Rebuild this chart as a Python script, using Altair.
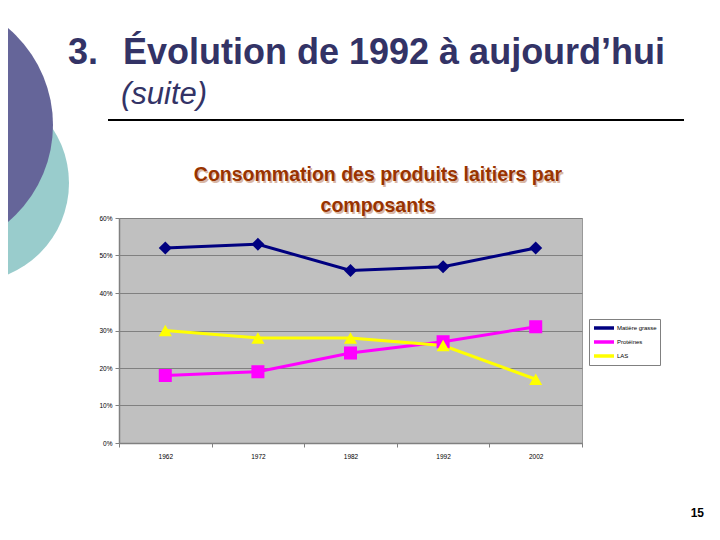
import altair as alt
import pandas as pd

# ---------------- data ----------------
years = ["1962", "1972", "1982", "1992", "2002"]
matiere_grasse = [0.52, 0.53, 0.46, 0.47, 0.52]
proteines = [0.18, 0.19, 0.24, 0.27, 0.31]
las = [0.30, 0.28, 0.28, 0.26, 0.17]
series_names = ["Matière grasse", "Protéines", "LAS"]
series_colors = ["#000080", "#FF00FF", "#FFFF00"]
series_shapes = ["diamond", "square", "triangle-up"]
y_ticks = [0, 0.1, 0.2, 0.3, 0.4, 0.5, 0.6]

slide_number = "3."
slide_title = "Évolution de 1992 à aujourd’hui"
slide_subtitle = "(suite)"
chart_title_1 = "Consommation des produits laitiers par"
chart_title_2 = "composants"
page_number = "15"

rows = []
for name, vals in zip(series_names, [matiere_grasse, proteines, las]):
    for yr, v in zip(years, vals):
        rows.append({"annee": yr, "part": v, "composant": name})
df = pd.DataFrame(rows)
one = pd.DataFrame({"k": [0]})

# ---------------- layout (page pixels) ----------------
W, H = 463, 225
OX, OY = 119, 218


def px(x):
    return x - OX


def py(y):
    return y - OY


x_enc = alt.X(
    "annee:O",
    sort=years,
    bandPosition=0.5,
    scale=alt.Scale(type="band", paddingInner=0, paddingOuter=0),
    axis=alt.Axis(
        title=None, labelAngle=0, tickBand="extent", grid=False,
        labelFontSize=6.5, labelColor="#000000", labelFont="Liberation Sans",
        labelPadding=6, tickSize=4, tickColor="#808080",
        domainColor="#808080", domainWidth=1.5,
    ),
)
y_enc = alt.Y(
    "part:Q",
    scale=alt.Scale(domain=[0, 0.6], nice=False),
    axis=alt.Axis(
        title=None, values=y_ticks, format=".0%",
        labelFontSize=6.5, labelColor="#000000", labelFont="Liberation Sans",
        labelPadding=3, tickSize=4, tickColor="#808080",
        domainColor="#808080", domainWidth=1.5,
        grid=True, gridColor="#808080", gridWidth=1,
    ),
)
color_enc = alt.Color(
    "composant:N",
    sort=series_names,
    scale=alt.Scale(domain=series_names, range=series_colors),
    legend=alt.Legend(
        title=None, orient="none", legendX=px(589), legendY=py(319),
        symbolType="stroke", symbolStrokeWidth=3.5, symbolSize=400,
        labelFontSize=6, labelFont="Liberation Sans", labelColor="#000000",
        labelOffset=1, clipHeight=12, rowPadding=2,
        fillColor="#FFFFFF", strokeColor="#808080", padding=3,
    ),
)

lines = alt.Chart(df).mark_line(strokeWidth=3).encode(
    x=x_enc, y=y_enc, color=color_enc
)

point_layers = []
for name, col, shp in zip(series_names, series_colors, series_shapes):
    point_layers.append(
        alt.Chart(df)
        .transform_filter(alt.datum.composant == name)
        .mark_point(filled=True, opacity=1, size=170, color=col, shape=shp)
        .encode(x=x_enc, y=y_enc)
    )

# ---------------- slide decoration ----------------
teal = alt.Chart(one).mark_circle(color="#99CCCC", opacity=1).encode(
    x=alt.value(px(-30)), y=alt.value(py(183)), size=alt.value(198 * 198)
)
purple = alt.Chart(one).mark_circle(color="#656599", opacity=1).encode(
    x=alt.value(px(-74)), y=alt.value(py(125)), size=alt.value(254 * 254)
)


def text(s, x, y, size, color, weight="normal", style="normal", align="left", font="Liberation Sans"):
    return alt.Chart(one).mark_text(
        text=s, align=align, baseline="alphabetic", fontSize=size, color=color,
        fontWeight=weight, fontStyle=style, font=font,
    ).encode(x=alt.value(px(x)), y=alt.value(py(y)))


navy = "#333366"
t_num = text(slide_number, 68, 64, 36, navy, weight="bold")
t_title = text(slide_title, 123, 64, 36, navy, weight="bold")
t_sub = text(slide_subtitle, 121, 104, 31, navy, style="italic")
underline = alt.Chart(one).mark_rule(color="#000000", strokeWidth=2).encode(
    x=alt.value(px(108)), x2=alt.value(px(684)), y=alt.value(py(120))
)
brown = "#993300"
shadow = "#D9B8A6"
ct1s = text(chart_title_1, 379.5, 182.5, 19.5, shadow, weight="bold", align="center")
ct2s = text(chart_title_2, 379.5, 213.5, 19.5, shadow, weight="bold", align="center")
ct1 = text(chart_title_1, 378, 181, 19.5, brown, weight="bold", align="center")
ct2 = text(chart_title_2, 378, 212, 19.5, brown, weight="bold", align="center")
pn = text(page_number, 704, 517, 12, "#000000", weight="bold", align="right")

chart = alt.layer(
    lines, *point_layers, teal, purple, t_num, t_title, t_sub, underline,
    ct1s, ct2s, ct1, ct2, pn
).properties(
    width=W, height=H,
    padding={"left": OX - 8, "top": OY - 8, "right": 704 - (OX - 8) - W, "bottom": 524 - (OY - 8) - H},
    autosize=alt.AutoSizeParams(type="none"),
    background="#FFFFFF",
).configure_view(fill="#C0C0C0", stroke="#999999", strokeWidth=1)

chart.save("out.html", embed_options={"renderer": "svg", "actions": False})
